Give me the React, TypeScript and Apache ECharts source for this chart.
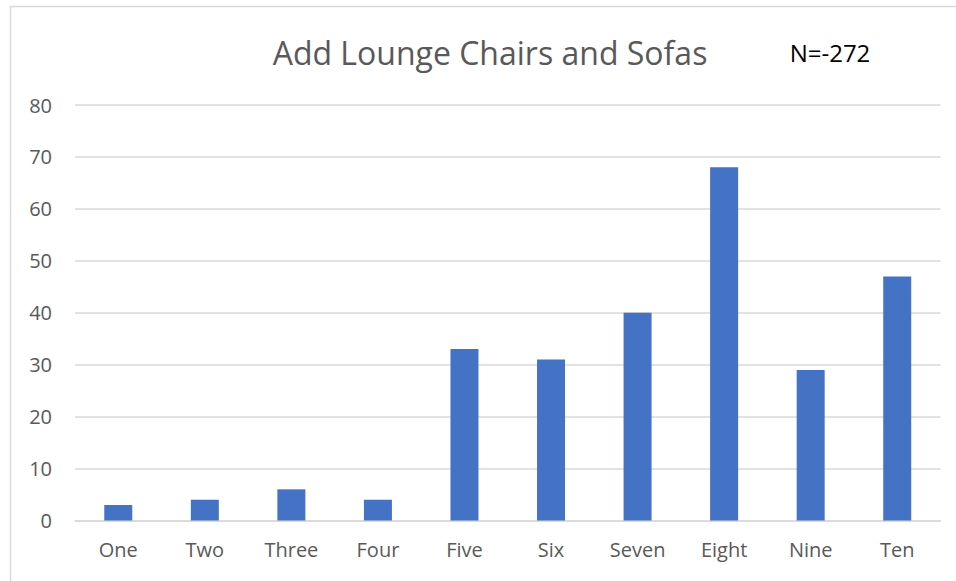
import React, { useEffect, useRef } from "react";
import * as echarts from "echarts";

const categories = ["One", "Two", "Three", "Four", "Five", "Six", "Seven", "Eight", "Nine", "Ten"];
const values = [3, 4, 6, 4, 33, 31, 40, 68, 29, 47];
const titleText = "Add Lounge Chairs and Sofas";
const noteText = "N=-272";

const FONT = "Open Sans";

export default function App() {
  const ref = useRef<HTMLDivElement>(null);
  useEffect(() => {
    document.body.style.margin = "0";
    const chart = echarts.init(ref.current!, null, { renderer: "svg" });
    chart.setOption({
      animation: false,
      backgroundColor: "#ffffff",
      textStyle: { fontFamily: FONT },
      graphic: [
        {
          type: "rect",
          shape: { x: 10.5, y: 6.5, width: 1000, height: 1000 },
          style: { fill: "none", stroke: "#d9d9d9", lineWidth: 1.5 },
          silent: true,
        },
        {
          type: "text",
          x: 490,
          y: 52,
          style: {
            text: titleText,
            fontFamily: FONT,
            fontSize: 32,
            fill: "#595959",
            align: "center",
            verticalAlign: "middle",
          },
        },
        {
          type: "text",
          x: 830,
          y: 52,
          style: {
            text: noteText,
            fontFamily: FONT,
            fontSize: 24,
            fill: "#000000",
            align: "center",
            verticalAlign: "middle",
          },
        },
      ],
      grid: { left: 75, right: 15.5, top: 105, bottom: 60.5, containLabel: false },
      xAxis: {
        type: "category",
        data: categories,
        axisTick: { show: false },
        axisLine: { lineStyle: { color: "#d9d9d9", width: 1.5 } },
        axisLabel: { color: "#595959", fontSize: 20, margin: 19, fontFamily: FONT },
      },
      yAxis: {
        type: "value",
        min: 0,
        max: 80,
        interval: 10,
        axisLine: { show: false },
        axisTick: { show: false },
        splitLine: { lineStyle: { color: "#d9d9d9", width: 1.5 } },
        axisLabel: { color: "#595959", fontSize: 20, margin: 23, fontFamily: FONT },
      },
      series: [
        {
          type: "bar",
          data: values,
          barWidth: 28,
          itemStyle: { color: "#4472c4" },
        },
      ],
    });
    return () => chart.dispose();
  }, []);
  return <div ref={ref} style={{ width: 956, height: 581 }} />;
}
